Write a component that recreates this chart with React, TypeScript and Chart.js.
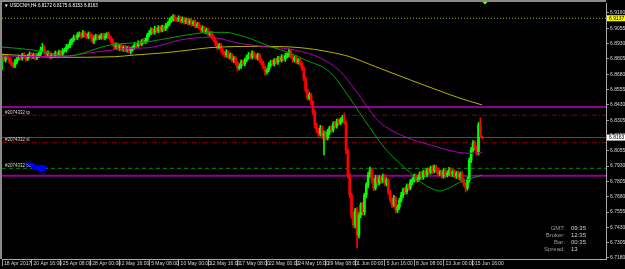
import React, { useEffect, useRef } from 'react';
import { Chart, registerables } from 'chart.js';

Chart.register(...registerables);

// ---------------- data ----------------
const headerText = '▼ USDCNH,H4 6.8172 6.8175 6.8153 6.8163';
const firstOpen = 6.88;

const closes = [
  6.8829, 6.8796, 6.8821, 6.8813, 6.8788, 6.8764, 6.8747, 6.8780, 6.8804, 6.8821,
  6.8813, 6.8837, 6.8821, 6.8804, 6.8829, 6.8845, 6.8821, 6.8837, 6.8813, 6.8829,
  6.8845, 6.8878, 6.8902, 6.8862, 6.8837, 6.8853, 6.8821, 6.8837, 6.8829, 6.8853,
  6.8837, 6.8862, 6.8845, 6.8870, 6.8878, 6.8902, 6.8911, 6.8943, 6.8960, 6.8984,
  6.8976, 6.9000, 6.9009, 6.8992, 6.9017, 6.9000, 6.8984, 6.9009, 6.8992, 6.8951,
  6.8976, 6.8992, 6.8976, 6.8984, 6.9000, 6.8976, 6.8992, 6.9009, 6.8984, 6.8960,
  6.8927, 6.8902, 6.8919, 6.8894, 6.8911, 6.8886, 6.8902, 6.8878, 6.8894, 6.8870,
  6.8886, 6.8902, 6.8919, 6.8911, 6.8935, 6.8927, 6.8951, 6.8943, 6.8960, 6.9000,
  6.9017, 6.9041, 6.9025, 6.9049, 6.9033, 6.9058, 6.9041, 6.9066, 6.9049, 6.9074,
  6.9090, 6.9115, 6.9131, 6.9147, 6.9131, 6.9123, 6.9139, 6.9115, 6.9131, 6.9107,
  6.9123, 6.9098, 6.9115, 6.9090, 6.9107, 6.9074, 6.9090, 6.9066, 6.9041, 6.9058,
  6.9025, 6.9041, 6.9009, 6.9017, 6.8984, 6.8960, 6.8927, 6.8902, 6.8919, 6.8878,
  6.8853, 6.8837, 6.8862, 6.8821, 6.8837, 6.8796, 6.8813, 6.8772, 6.8731, 6.8747,
  6.8780, 6.8764, 6.8796, 6.8821, 6.8837, 6.8821, 6.8853, 6.8829, 6.8813, 6.8837,
  6.8796, 6.8772, 6.8739, 6.8698, 6.8715, 6.8756, 6.8780, 6.8764, 6.8796, 6.8780,
  6.8813, 6.8796, 6.8821, 6.8804, 6.8829, 6.8837, 6.8862, 6.8829, 6.8796, 6.8813,
  6.8780, 6.8796, 6.8764, 6.8731, 6.8649, 6.8551, 6.8486, 6.8511, 6.8453, 6.8372,
  6.8266, 6.8225, 6.8192, 6.8241, 6.8176, 6.8200, 6.8160, 6.8209, 6.8241, 6.8225,
  6.8274, 6.8258, 6.8298, 6.8282, 6.8307, 6.8323, 6.8290, 6.8062, 6.7857, 6.7694,
  6.7531, 6.7449, 6.7572, 6.7368, 6.7531, 6.7613, 6.7556, 6.7694, 6.7776, 6.7857,
  6.7898, 6.7817, 6.7751, 6.7833, 6.7792, 6.7833, 6.7809, 6.7849, 6.7792, 6.7817,
  6.7719, 6.7653, 6.7613, 6.7670, 6.7572, 6.7596, 6.7653, 6.7694, 6.7735, 6.7719,
  6.7768, 6.7751, 6.7800, 6.7817, 6.7849, 6.7817, 6.7833, 6.7866, 6.7841, 6.7882,
  6.7857, 6.7898, 6.7882, 6.7915, 6.7890, 6.7923, 6.7898, 6.7866, 6.7882, 6.7849,
  6.7890, 6.7857, 6.7874, 6.7898, 6.7866, 6.7882, 6.7849, 6.7874, 6.7841, 6.7866,
  6.7817, 6.7784, 6.7751, 6.7817, 6.7980, 6.8062, 6.8119, 6.8078, 6.8045, 6.8266,
  6.8172, 6.8163,
];

const upperWickPips = [
  12, 18, 10, 20, 8, 15, 10, 22, 12, 16, 10, 14, 20, 9, 13, 18, 11, 15, 12, 19,
  16, 25, 30, 12, 10, 19, 9, 15, 13, 17, 10, 15, 12, 20, 16, 22, 15, 19, 13, 17,
  15, 20, 17, 11, 22, 13, 15, 17, 10, 13, 20, 15, 11, 17, 13, 15, 20, 12, 17, 11,
  13, 11, 17, 15, 12, 19, 11, 15, 13, 17, 15, 12, 19, 11, 17, 15, 13, 22, 17, 15,
  20, 17, 15, 22, 13, 19, 17, 15, 13, 22, 19, 25, 21, 20, 17, 15, 19, 13, 17, 15,
  17, 13, 19, 15, 11, 17, 13, 15, 11, 19, 13, 17, 15, 11, 13, 17, 15, 19, 13, 11,
  15, 13, 19, 11, 17, 13, 15, 11, 13, 19, 17, 15, 13, 17, 22, 15, 19, 13, 17, 15,
  13, 11, 17, 9, 15, 19, 13, 17, 11, 15, 13, 17, 19, 15, 22, 19, 25, 13, 11, 17,
  15, 13, 11, 17, 13, 11, 9, 22, 13, 11, 15, 17, 13, 22, 15, 19, 17, 22, 15, 19,
  17, 22, 15, 19, 17, 22, 41, 10, 10, 17, 15, 25, 13, 22, 19, 17, 22, 15, 19, 22,
  25, 17, 13, 22, 17, 19, 15, 17, 13, 19, 11, 13, 17, 22, 13, 19, 17, 22, 15, 19,
  17, 15, 22, 19, 17, 15, 19, 17, 22, 15, 19, 17, 19, 15, 22, 17, 13, 19, 15, 17,
  19, 15, 17, 22, 15, 17, 19, 13, 17, 15, 22, 13, 11, 25, 17, 22, 19, 15, 17, 20,
  57, 3,
];

const lowerWickPips = [
  85, 13, 17, 11, 19, 15, 16, 13, 17, 11, 15, 19, 13, 17, 11, 15, 19, 13, 17, 15,
  13, 17, 11, 19, 15, 13, 17, 11, 15, 13, 19, 17, 13, 15, 11, 17, 13, 15, 19, 13,
  17, 13, 15, 19, 11, 17, 13, 15, 19, 13, 22, 17, 15, 13, 19, 11, 15, 17, 13, 19,
  15, 19, 13, 17, 22, 15, 19, 13, 17, 15, 25, 17, 19, 15, 13, 17, 15, 19, 13, 17,
  15, 13, 17, 19, 15, 13, 17, 15, 19, 13, 17, 15, 13, 17, 19, 15, 13, 17, 15, 19,
  15, 17, 13, 19, 15, 17, 13, 15, 19, 17, 13, 15, 17, 19, 15, 13, 17, 22, 15, 19,
  17, 15, 19, 13, 17, 15, 22, 17, 25, 15, 19, 13, 17, 15, 19, 13, 17, 15, 13, 17,
  15, 19, 17, 28, 17, 15, 19, 13, 17, 15, 19, 13, 17, 15, 19, 13, 17, 15, 19, 17,
  15, 17, 19, 17, 22, 19, 17, 15, 22, 19, 25, 22, 19, 17, 22, 155, 19, 17, 22, 19,
  17, 15, 19, 17, 15, 19, 17, 30, 25, 22, 28, 20, 25, 106, 25, 22, 28, 25, 22, 19,
  19, 25, 22, 17, 19, 15, 22, 17, 19, 25, 22, 19, 23, 17, 25, 22, 19, 17, 22, 19,
  17, 19, 15, 22, 17, 19, 15, 17, 22, 19, 17, 15, 19, 17, 22, 15, 19, 17, 15, 19,
  17, 22, 15, 19, 17, 22, 15, 19, 17, 25, 22, 19, 32, 17, 19, 22, 17, 19, 22, 25,
  5, 10,
];

const timeTickBars = [0, 16, 32, 48, 64, 80, 96, 112, 128, 144, 160, 176, 192, 208, 224, 240, 256];
const timeTickLabels = [
  '18 Apr 2017', '20 Apr 16:00', '25 Apr 08:00', '28 Apr 00:00', '2 May 16:00', '5 May 08:00',
  '10 May 00:00', '12 May 16:00', '17 May 08:00', '22 May 00:00', '24 May 16:00', '29 May 08:00',
  '1 Jun 00:00', '5 Jun 16:00', '8 Jun 08:00', '13 Jun 00:00', '15 Jun 16:00',
];

const priceTicks = [
  6.7180, 6.7305, 6.7430, 6.7555, 6.7680, 6.7805, 6.7930, 6.8055, 6.8180,
  6.8305, 6.8430, 6.8555, 6.8680, 6.8805, 6.8930, 6.9055, 6.9180,
];

const fastMaBars = [0, 17, 35, 59, 80, 97, 113, 121, 132, 146, 157, 165, 178, 186, 197, 208, 216, 222, 226, 233, 238, 243, 249, 254, 261];
const fastMaValues = [6.8902, 6.8878, 6.8829, 6.8919, 6.8946, 6.8992, 6.9022, 6.9022, 6.8986, 6.8905, 6.8851, 6.8796, 6.8701, 6.8551, 6.8307, 6.8078, 6.7955, 6.7874, 6.7817, 6.7751, 6.7727, 6.7751, 6.7800, 6.7825, 6.7857];

const midMaBars = [0, 32, 48, 71, 80, 97, 113, 129, 143, 159, 173, 184, 192, 205, 219, 233, 246, 254, 261];
const midMaValues = [6.8829, 6.8823, 6.8856, 6.8892, 6.8897, 6.8960, 6.8982, 6.8933, 6.8905, 6.8878, 6.8813, 6.8701, 6.8551, 6.8293, 6.8170, 6.8102, 6.8048, 6.8035, 6.8040];

const slowMaBars = [0, 32, 61, 72, 89, 102, 113, 140, 162, 178, 189, 203, 222, 235, 249, 261];
const slowMaValues = [6.8843, 6.8818, 6.8823, 6.8837, 6.8856, 6.8878, 6.8897, 6.8908, 6.8897, 6.8862, 6.8823, 6.8742, 6.8633, 6.8560, 6.8484, 6.8429];

const alertPrice = 6.9137;
const purpleLevels = [6.8413, 6.7852];
const bidPrice = 6.8163;
const orderTicket = '#2074332';
const takeProfit = 6.8345;
const stopLoss = 6.8121;
const entryPrice = 6.7912;
const infoLabels = ['GMT:', 'Broker:', 'Bar:', 'Spread:'];
const infoValues = ['09:35', '12:35', '00:35', '13'];

// ---------------- view settings ----------------
const X_MIN = 0;
const X_MAX = 328.3;
const Y_MIN = 6.71718;
const Y_MAX = 6.92616;
const UP = '#00ff00';
const DOWN = '#ff0000';
const FONT = '"Liberation Sans", Arial, sans-serif';

export default function App() {
  const ref = useRef<HTMLCanvasElement | null>(null);

  useEffect(() => {
    const canvas = ref.current;
    if (!canvas) return;
    const pip = 0.0001;
    const bars = closes.map((c, i) => {
      const o = i === 0 ? firstOpen : closes[i - 1];
      return {
        i,
        o,
        c,
        h: Math.max(o, c) + upperWickPips[i] * pip,
        l: Math.min(o, c) - lowerWickPips[i] * pip,
      };
    });
    const colors = bars.map((b) => (b.c >= b.o ? UP : DOWN));

    const hLine = (price: number, color: string, width: number, dash: number[]) => ({
      type: 'line' as const,
      data: [
        { x: X_MIN, y: price },
        { x: X_MAX, y: price },
      ],
      borderColor: color,
      borderWidth: width,
      borderDash: dash,
      pointRadius: 0,
      order: 20,
    });

    const maLine = (xs: number[], ys: number[], color: string, order: number) => ({
      type: 'line' as const,
      data: xs.map((x, k) => ({ x, y: ys[k] })),
      borderColor: color,
      borderWidth: 1,
      pointRadius: 0,
      tension: 0.4,
      cubicInterpolationMode: 'monotone' as const,
      order,
    });

    const overlay = {
      id: 'mt4overlay',
      beforeDraw(chart: any) {
        const c = chart.ctx;
        c.save();
        c.fillStyle = '#000';
        c.fillRect(0, 0, chart.width, chart.height);
        c.restore();
      },
      afterDraw(chart: any) {
        const c = chart.ctx;
        const ca = chart.chartArea;
        const ys = chart.scales.y;
        c.save();
        // frame
        c.fillStyle = '#8a8a8a';
        c.fillRect(0, 0, ca.right, 2);
        c.fillRect(0, 0, 2, ca.bottom);
        // header
        c.fillStyle = '#ffffff';
        c.font = `4.6px ${FONT}`;
        c.textBaseline = 'middle';
        c.textAlign = 'left';
        c.fillText(headerText, 4, 6);
        // order labels
        c.fillStyle = '#d8d8d8';
        c.font = `4.5px ${FONT}`;
        c.fillText(orderTicket + ' tp', 5, ys.getPixelForValue(takeProfit) - 2.5);
        c.fillText(orderTicket + ' sl', 5, ys.getPixelForValue(stopLoss) - 2.5);
        c.fillText(orderTicket + ' buy', 5, ys.getPixelForValue(entryPrice) - 3);
        // blue trade arrow blob
        const ey = ys.getPixelForValue(entryPrice);
        c.fillStyle = '#0000ff';
        c.strokeStyle = '#0000ff';
        c.lineWidth = 1;
        c.beginPath();
        c.moveTo(26, ey - 6);
        c.lineTo(34, ey - 5);
        c.lineTo(36, ey - 3);
        c.lineTo(45, ey - 3);
        c.lineTo(48, ey - 1);
        c.lineTo(45, ey + 1);
        c.lineTo(47, ey + 3);
        c.lineTo(40, ey + 3);
        c.lineTo(33, ey + 1);
        c.lineTo(30, ey - 2);
        c.closePath();
        c.fill();
        c.beginPath();
        c.moveTo(26, ey - 6);
        c.lineTo(26, ey - 2);
        c.moveTo(41, ey + 3);
        c.lineTo(41, ey + 5);
        c.lineTo(46, ey + 5);
        c.stroke();
        // shift marker
        c.fillStyle = '#66ff33';
        c.beginPath();
        c.moveTo(482.5, 2);
        c.lineTo(487.5, 2);
        c.lineTo(485, 4.5);
        c.closePath();
        c.fill();
        // price tags on axis
        const tag = (price: number, bg: string, fg: string) => {
          const py = ys.getPixelForValue(price);
          c.fillStyle = bg;
          c.fillRect(ca.right + 1, py - 3, chart.width - ca.right - 1, 6);
          c.fillStyle = fg;
          c.font = `5px ${FONT}`;
          c.textAlign = 'left';
          c.fillText(price.toFixed(4), ca.right + 3, py + 0.3);
        };
        tag(alertPrice, '#ffff00', '#000000');
        tag(bidPrice, '#ffffff', '#000000');
        // info box
        c.font = `6px ${FONT}`;
        infoLabels.forEach((lab, k) => {
          const yy = 228 + k * 7;
          c.fillStyle = '#9a9a9a';
          c.textAlign = 'right';
          c.fillText(lab, 565, yy);
          c.fillStyle = '#d0d0d0';
          c.textAlign = 'left';
          c.fillText(infoValues[k], 571, yy);
        });
        c.restore();
      },
    };

    const chart = new Chart(canvas, {
      type: 'bar',
      data: {
        datasets: [
          hLine(alertPrice, '#b4b400', 1, [1, 2]),
          hLine(purpleLevels[0], '#8e008e', 2, []),
          hLine(purpleLevels[1], '#8e008e', 2, []),
          hLine(takeProfit, '#8b0000', 1, [5, 2, 1, 2]),
          hLine(stopLoss, '#8b0000', 1, [5, 2, 1, 2]),
          hLine(bidPrice, '#3c7000', 1, []),
          hLine(entryPrice, '#009000', 1, [4, 3]),
          {
            type: 'bar',
            data: bars.map((b) => ({ x: b.i, y: [b.l, b.h] })),
            backgroundColor: colors,
            barThickness: 1,
            grouped: false,
            order: 12,
          } as any,
          {
            type: 'bar',
            data: bars.map((b) => ({ x: b.i, y: [b.o, b.c] })),
            backgroundColor: colors,
            barThickness: 2,
            minBarLength: 1,
            grouped: false,
            order: 11,
          } as any,
          maLine(slowMaBars, slowMaValues, '#b4b400', 3),
          maLine(midMaBars, midMaValues, '#b000b0', 2),
          maLine(fastMaBars, fastMaValues, '#00a000', 1),
        ] as any,
      },
      options: {
        animation: false,
        responsive: false,
        devicePixelRatio: 1,
        events: [],
        layout: { padding: { left: 2, top: 3, right: 0, bottom: 0 } },
        plugins: { legend: { display: false }, tooltip: { enabled: false }, title: { display: false } },
        scales: {
          x: {
            type: 'linear',
            min: X_MIN,
            max: X_MAX,
            offset: false,
            grid: { display: true, drawOnChartArea: false, drawTicks: true, tickLength: 7, color: '#9a9a9a', offset: false },
            border: { display: true, color: '#a8a8a8' },
            ticks: {
              autoSkip: false,
              maxRotation: 0,
              minRotation: 0,
              align: 'start',
              labelOffset: 2,
              padding: -5,
              color: '#d8d8d8',
              font: { size: 5, family: FONT },
              callback: (v: any) => {
                const k = timeTickBars.indexOf(Number(v));
                return k >= 0 ? timeTickLabels[k] : '';
              },
            },
            afterBuildTicks: (s: any) => {
              s.ticks = timeTickBars.map((v) => ({ value: v }));
            },
            afterFit: (s: any) => {
              s.height = 10;
              s.paddingLeft = 0;
              s.paddingRight = 0;
            },
          },
          y: {
            type: 'linear',
            position: 'right',
            min: Y_MIN,
            max: Y_MAX,
            grid: { display: true, drawOnChartArea: false, drawTicks: true, tickLength: 3, color: '#9a9a9a' },
            border: { display: true, color: '#a8a8a8' },
            ticks: {
              padding: 1,
              color: '#d8d8d8',
              font: { size: 5, family: FONT },
              callback: (v: any) => Number(v).toFixed(4),
            },
            afterBuildTicks: (s: any) => {
              s.ticks = priceTicks.map((v) => ({ value: v }));
            },
            afterFit: (s: any) => {
              s.width = 19;
              s.paddingTop = 0;
              s.paddingBottom = 0;
            },
          },
        },
      } as any,
      plugins: [overlay],
    });
    return () => chart.destroy();
  }, []);

  return (
    <div style={{ position: 'fixed', left: 0, top: 0, width: 625, height: 269, background: '#000' }}>
      <canvas ref={ref} width={625} height={269} style={{ display: 'block', width: 625, height: 269 }} />
    </div>
  );
}
